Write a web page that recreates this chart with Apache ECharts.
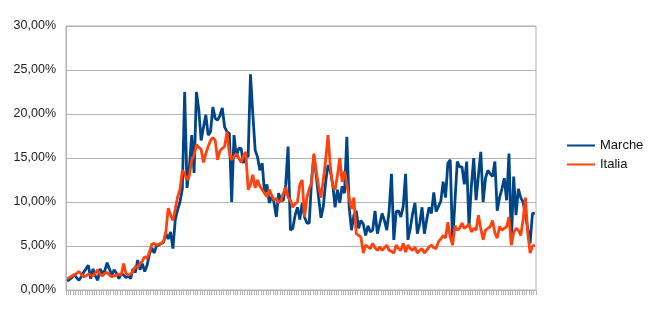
<!DOCTYPE html>
<html>
<head>
<meta charset="utf-8">
<script src="https://cdn.jsdelivr.net/npm/echarts@6/dist/echarts.min.js"></script>
<style>
html,body{margin:0;padding:0;background:#fff;}
#chart{width:650px;height:315px;}
</style>
</head>
<body>
<div id="chart"></div>
<script>
// Series names
var seriesNames = ["Marche", "Italia"];

// Values in percent (e.g. 22.5 means 22,50%)
var marche = [
  1.0, 1.2, 1.4, 1.8, 1.4, 1.1, 1.5, 2.0, 2.4, 2.8,
  1.3, 2.4, 1.6, 1.1, 2.4, 1.9, 2.2, 3.1, 2.4, 1.7,
  2.3, 1.9, 1.3, 1.8, 1.7, 1.4, 1.6, 1.3, 2.4, 2.0,
  3.4, 2.3, 3.0, 2.1, 2.8, 4.1, 4.8, 4.2, 5.0, 5.1,
  5.3, 5.4, 6.4, 5.8, 6.6, 4.7, 8.0, 9.1, 10.0, 11.5,
  22.5, 11.6, 14.0, 17.6, 13.3, 22.5, 20.5, 17.0, 18.5, 19.9,
  17.6, 18.0, 20.8, 19.5, 19.3, 19.8, 20.7, 18.5, 18.0, 17.8,
  10.0, 17.6, 15.1, 16.1, 16.1, 14.4, 15.5, 15.1, 24.5, 20.0,
  15.9, 15.1, 13.6, 14.4, 11.0, 12.0, 9.9, 10.6, 10.0, 8.3,
  11.0, 10.2, 10.2, 12.0, 16.3, 6.8, 7.0, 8.5, 9.4, 8.0,
  9.9, 8.3, 7.6, 7.6, 12.5, 15.3, 13.0, 10.5, 8.2, 9.5,
  12.3, 14.2, 13.5, 12.0, 9.4, 11.4, 9.9, 11.8, 11.0, 17.4,
  9.4, 6.8, 8.5, 9.0, 7.0, 7.9, 7.5, 6.2, 7.3, 6.6,
  6.8, 9.0, 6.4, 7.5, 8.7, 7.9, 6.8, 9.0, 13.2, 5.7,
  8.9, 9.0, 8.3, 9.5, 13.2, 5.7, 7.0, 8.7, 9.9, 6.4,
  7.5, 9.4, 6.4, 8.0, 9.4, 8.7, 11.1, 8.9, 9.5, 10.1,
  12.3, 10.5, 14.4, 14.8, 5.3, 10.0, 14.6, 14.0, 14.0, 12.0,
  14.6, 7.2, 11.8, 15.0, 10.2, 13.0, 15.7, 10.0, 12.7, 13.6,
  13.2, 12.9, 14.6, 9.0, 10.5, 11.5, 12.7, 10.2, 15.5, 5.3,
  12.9, 8.5, 11.5, 10.5, 10.0, 8.5, 7.0, 5.3, 8.7, 8.7
];

var italia = [
  1.3, 1.4, 1.6, 1.7, 1.9, 2.1, 1.8, 1.5, 1.6, 1.8,
  1.7, 1.6, 1.9, 2.3, 1.8, 1.6, 1.9, 2.0, 1.7, 1.5,
  1.6, 1.7, 1.8, 1.7, 3.0, 1.9, 1.7, 1.8, 2.1, 2.7,
  2.6, 3.0, 3.3, 3.8, 3.6, 4.3, 5.2, 5.3, 5.1, 5.2,
  5.3, 5.5, 6.6, 9.3, 8.5, 7.9, 9.2, 10.6, 11.4, 13.6,
  13.2, 12.5, 13.0, 14.8, 15.3, 16.5, 16.2, 16.0, 14.5, 15.5,
  16.3, 17.0, 17.3, 17.0, 14.8, 15.8, 16.1, 16.3, 18.0, 15.5,
  14.8, 15.2, 15.5, 15.0, 14.5, 15.2, 15.7, 11.4, 12.0, 13.1,
  11.6, 12.5, 11.8, 11.4, 11.0, 10.6, 11.4, 10.8, 10.2, 10.4,
  9.9, 10.2, 11.0, 11.7, 10.5, 10.2, 9.4, 9.8, 10.0, 12.0,
  12.5, 8.3, 10.5, 11.5, 12.2, 15.5, 13.5, 11.8, 10.5, 12.5,
  14.8, 17.6, 14.0, 11.8, 11.4, 13.0, 15.0, 12.3, 13.5, 12.0,
  10.5, 9.2, 10.5, 6.4, 6.2, 6.0, 4.2, 5.1, 4.9, 4.7,
  5.3, 4.8, 4.5, 4.9, 4.5, 4.8, 5.1, 4.5, 4.4, 4.2,
  5.1, 4.7, 4.5, 5.3, 4.3, 5.1, 4.7, 4.5, 4.9, 4.2,
  4.5, 4.7, 4.2, 4.5, 4.9, 5.1, 4.8, 4.7, 5.5, 5.8,
  6.2, 5.9, 7.7, 6.0, 5.1, 7.3, 6.8, 7.0, 7.6, 7.0,
  7.2, 7.5, 6.6, 7.0, 6.8, 8.5, 7.0, 5.7, 6.8, 7.0,
  7.2, 7.9, 6.5, 5.9, 7.2, 6.8, 7.0, 7.2, 8.3, 5.1,
  6.5, 7.0, 6.8, 6.2, 8.0, 10.5, 6.4, 4.2, 5.0, 5.1
];

// Category labels (unlabelled days on the reference)
var categories = [];
for (var k = 0; k < marche.length; k++) categories.push(String(k + 1));

// Y tick range
var yMin = 0, yMax = 30, yStep = 5;

var chart = echarts.init(document.getElementById('chart'), null, {renderer: 'canvas'});
chart.setOption({
  animation: false,
  backgroundColor: '#ffffff',
  grid: {
    left: 66, right: 114, top: 26, bottom: 25,
    show: true, borderColor: '#b3b3b3', borderWidth: 1, backgroundColor: 'transparent'
  },
  legend: {
    orient: 'vertical',
    left: 562, top: 134,
    itemWidth: 28, itemHeight: 2, itemGap: 6,
    icon: 'rect',
    textStyle: {fontFamily: 'Liberation Sans, Arial, sans-serif', fontSize: 13, color: '#111'},
    data: seriesNames
  },
  xAxis: {
    type: 'category',
    data: categories,
    boundaryGap: true,
    axisLine: {lineStyle: {color: '#b3b3b3', width: 1}},
    axisTick: {show: true, interval: 0, length: 5, lineStyle: {color: '#b3b3b3'}},
    axisLabel: {show: false},
    splitLine: {show: false}
  },
  yAxis: {
    type: 'value',
    min: yMin, max: yMax, interval: yStep,
    axisLine: {show: true, lineStyle: {color: '#b3b3b3'}},
    axisTick: {show: false},
    axisLabel: {
      margin: 10,
      fontFamily: 'Liberation Sans, Arial, sans-serif', fontSize: 12.5, color: '#222',
      formatter: function (v) { return v.toFixed(2).replace('.', ',') + '%'; }
    },
    splitLine: {lineStyle: {color: '#b3b3b3', width: 1}}
  },
  series: [
    {
      name: seriesNames[0], type: 'line', data: marche,
      showSymbol: false, symbol: 'none',
      lineStyle: {color: '#004586', width: 2.8},
      itemStyle: {color: '#004586'}
    },
    {
      name: seriesNames[1], type: 'line', data: italia,
      showSymbol: false, symbol: 'none',
      lineStyle: {color: '#ff420e', width: 2.8},
      itemStyle: {color: '#ff420e'}
    }
  ]
});
</script>
</body>
</html>
